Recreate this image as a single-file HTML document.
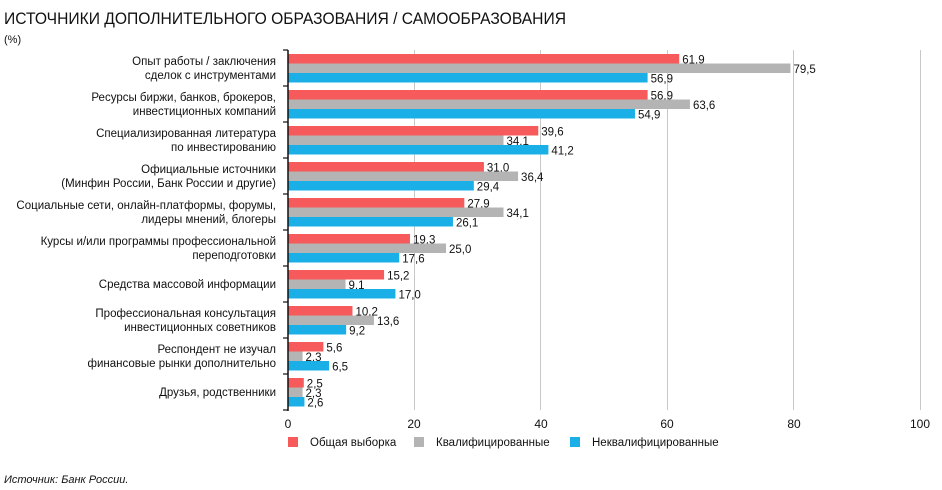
<!DOCTYPE html>
<html><head><meta charset="utf-8"><style>
body{margin:0;background:#fff;width:942px;height:490px;overflow:hidden}
svg{display:block;font-family:"Liberation Sans","DejaVu Sans",sans-serif}
</style></head><body>
<svg width="942" height="490" xmlns="http://www.w3.org/2000/svg">
<text x="4" y="24" font-size="17" fill="#111" textLength="562" lengthAdjust="spacingAndGlyphs">ИСТОЧНИКИ ДОПОЛНИТЕЛЬНОГО ОБРАЗОВАНИЯ / САМООБРАЗОВАНИЯ</text>
<text x="4" y="43" font-size="11" fill="#111">(%)</text>
<g stroke="#c8c8c8" stroke-width="1">
<line x1="414.5" y1="50" x2="414.5" y2="410"/><line x1="540.5" y1="50" x2="540.5" y2="410"/>
<line x1="667.5" y1="50" x2="667.5" y2="410"/><line x1="793.5" y1="50" x2="793.5" y2="410"/>
<line x1="920.5" y1="50" x2="920.5" y2="410"/>
</g>
<g id="bars" font-size="11.5" fill="#111"></g>
<line x1="288" y1="50" x2="288" y2="411" stroke="#111" stroke-width="1.5"/>
<g id="ticks" stroke="#111" stroke-width="1.2"></g>
<g font-size="12" fill="#111" text-anchor="middle">
<text x="288" y="428">0</text><text x="414" y="428">20</text><text x="541" y="428">40</text>
<text x="667" y="428">60</text><text x="794" y="428">80</text><text x="920" y="428">100</text>
</g>
<g font-size="11.5" fill="#111">
<rect x="288" y="437" width="10" height="10" fill="#f65a5b"/><text x="310" y="446">Общая выборка</text>
<rect x="414" y="437" width="10" height="10" fill="#b4b4b4"/><text x="436" y="446">Квалифицированные</text>
<rect x="570" y="437" width="10" height="10" fill="#1aafe6"/><text x="592" y="446">Неквалифицированные</text>
</g>
<text x="4" y="483" font-size="11" font-style="italic" fill="#111">Источник: Банк России.</text>
<g id="labels" font-size="11.5" fill="#111" text-anchor="end"></g>
</svg>
<script>
var d=[[["Опыт работы / заключения","сделок с инструментами"],61.9,79.5,56.9],
[["Ресурсы биржи, банков, брокеров,","инвестиционных компаний"],56.9,63.6,54.9],
[["Специализированная литература","по инвестированию"],39.6,34.1,41.2],
[["Официальные источники","(Минфин России, Банк России и другие)"],31.0,36.4,29.4],
[["Социальные сети, онлайн-платформы, форумы,","лидеры мнений, блогеры"],27.9,34.1,26.1],
[["Курсы и/или программы профессиональной","переподготовки"],19.3,25.0,17.6],
[["Средства массовой информации"],15.2,9.1,17.0],
[["Профессиональная консультация","инвестиционных советников"],10.2,13.6,9.2],
[["Респондент не изучал","финансовые рынки дополнительно"],5.6,2.3,6.5],
[["Друзья, родственники"],2.5,2.3,2.6]];
var ns="http://www.w3.org/2000/svg",cols=["#f65a5b","#b4b4b4","#1aafe6"];
function el(p,t,a,txt){var e=document.createElementNS(ns,t);for(var k in a)e.setAttribute(k,a[k]);if(txt!=null)e.textContent=txt;p.appendChild(e);}
var B=document.getElementById("bars"),T=document.getElementById("ticks"),L=document.getElementById("labels");
for(var i=0;i<=10;i++)el(T,"line",{x1:283,x2:288,y1:50+36*i,y2:50+36*i});
d.forEach(function(r,i){var y0=50+36*i+4;
for(var j=0;j<3;j++){var v=r[j+1],w=v*6.32,y=y0+j*9.5;
el(B,"rect",{x:288,y:y,width:w,height:9.5,fill:cols[j]});
el(B,"text",{x:288+w+3,y:y+9.5},v.toFixed(1).replace(".",","));}
var c=50+36*i+18,n=r[0].length;
r[0].forEach(function(s,k){el(L,"text",{x:276,y:c+4+(k-(n-1)/2)*14},s);});
});
</script>
</body></html>
